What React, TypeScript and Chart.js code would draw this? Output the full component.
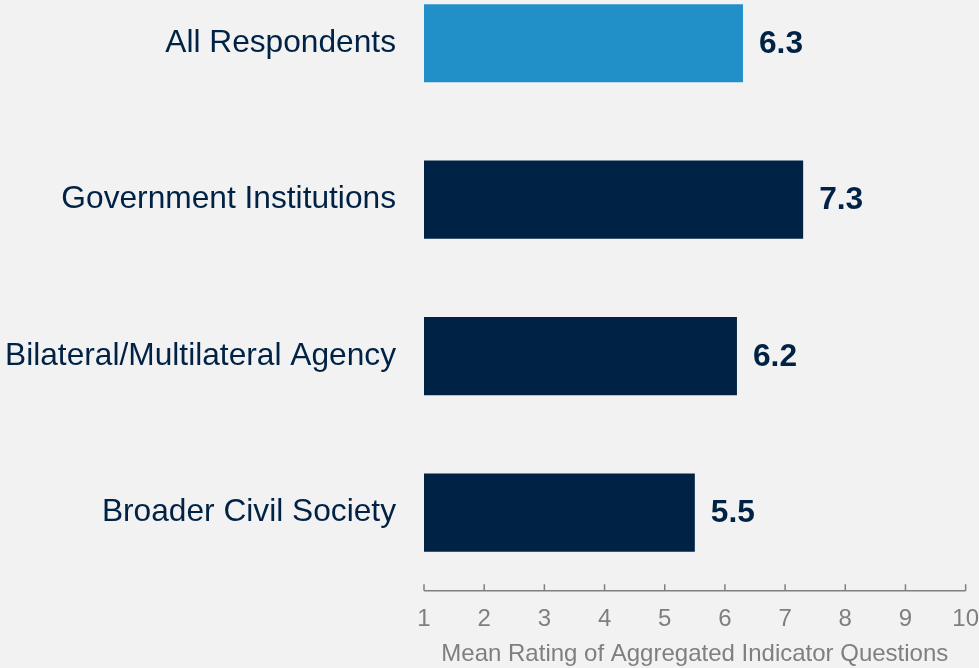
import React, { useEffect, useRef } from "react";
import { Chart, registerables } from "chart.js";

Chart.register(...registerables);

const categories = [
  "All Respondents",
  "Government Institutions",
  "Bilateral/Multilateral Agency",
  "Broader Civil Society",
];
const meanRatings = [6.3, 7.3, 6.2, 5.5];
const barColors = ["#2190c8", "#002244", "#002244", "#002244"];
const xTickValues = [1, 2, 3, 4, 5, 6, 7, 8, 9, 10];
const xAxisTitle = "Mean Rating of Aggregated Indicator Questions";

const FONT = "'Liberation Sans', Arial, Helvetica, sans-serif";
const NAVY = "#002244";
const GRAY = "#7f7f7f";

const axisPlugin = {
  id: "customAxis",
  afterDraw(chart: any) {
    const ctx = chart.ctx;
    const xs = chart.scales.x;
    const y = chart.chartArea.bottom;
    ctx.save();
    ctx.strokeStyle = GRAY;
    ctx.lineWidth = 1.5;
    ctx.beginPath();
    ctx.moveTo(xs.getPixelForValue(xTickValues[0]), y);
    ctx.lineTo(xs.getPixelForValue(xTickValues[xTickValues.length - 1]), y);
    xTickValues.forEach((v) => {
      const px = xs.getPixelForValue(v);
      ctx.moveTo(px, y);
      ctx.lineTo(px, y - 6.5);
    });
    ctx.stroke();
    ctx.restore();
  },
};

const valueLabelPlugin = {
  id: "valueLabels",
  afterDatasetsDraw(chart: any) {
    const ctx = chart.ctx;
    const meta = chart.getDatasetMeta(0);
    ctx.save();
    ctx.font = `bold 31.7px ${FONT}`;
    ctx.fillStyle = NAVY;
    ctx.textAlign = "left";
    ctx.textBaseline = "middle";
    meta.data.forEach((bar: any, i: number) => {
      ctx.fillText(meanRatings[i].toFixed(1), bar.x + 16, bar.y + 1);
    });
    ctx.restore();
  },
};

export default function App() {
  const canvasRef = useRef<HTMLCanvasElement | null>(null);

  useEffect(() => {
    if (!canvasRef.current) return;
    const chart = new Chart(canvasRef.current, {
      type: "bar",
      data: {
        labels: categories,
        datasets: [
          {
            data: meanRatings,
            backgroundColor: barColors,
            borderWidth: 0,
            barPercentage: 0.5,
            categoryPercentage: 1,
            base: 1,
          },
        ],
      },
      options: {
        indexAxis: "y",
        responsive: false,
        animation: false,
        devicePixelRatio: 1,
        layout: { padding: { left: 0, right: 0, top: 0, bottom: 16 } },
        plugins: {
          legend: { display: false },
          tooltip: { enabled: false },
        },
        scales: {
          x: {
            type: "linear",
            min: 1,
            max: 10,
            grid: { display: false, drawTicks: false },
            border: { display: false },
            ticks: {
              stepSize: 1,
              padding: 14,
              color: GRAY,
              font: { family: FONT, size: 24 },
            },
            title: {
              display: true,
              text: xAxisTitle,
              color: GRAY,
              font: { family: FONT, size: 24, lineHeight: 0.6 },
              padding: { top: 0, bottom: 0 },
            },
          },
          y: {
            type: "category",
            grid: { display: false, drawTicks: false },
            border: { display: false },
            ticks: {
              padding: 28,
              color: NAVY,
              font: { family: FONT, size: 31.7 },
            },
            afterFit(scale: any) {
              scale.width = 424;
            },
          },
        },
      },
      plugins: [axisPlugin, valueLabelPlugin],
    } as any);
    return () => chart.destroy();
  }, []);

  return (
    <div
      style={{
        position: "absolute",
        left: 0,
        top: 0,
        width: 979,
        height: 668,
        overflow: "hidden",
        background: "#f2f2f2",
      }}
    >
      <canvas
        ref={canvasRef}
        width={993}
        height={760}
        style={{ position: "absolute", left: 0, top: -82, width: 993, height: 760 }}
      />
    </div>
  );
}
